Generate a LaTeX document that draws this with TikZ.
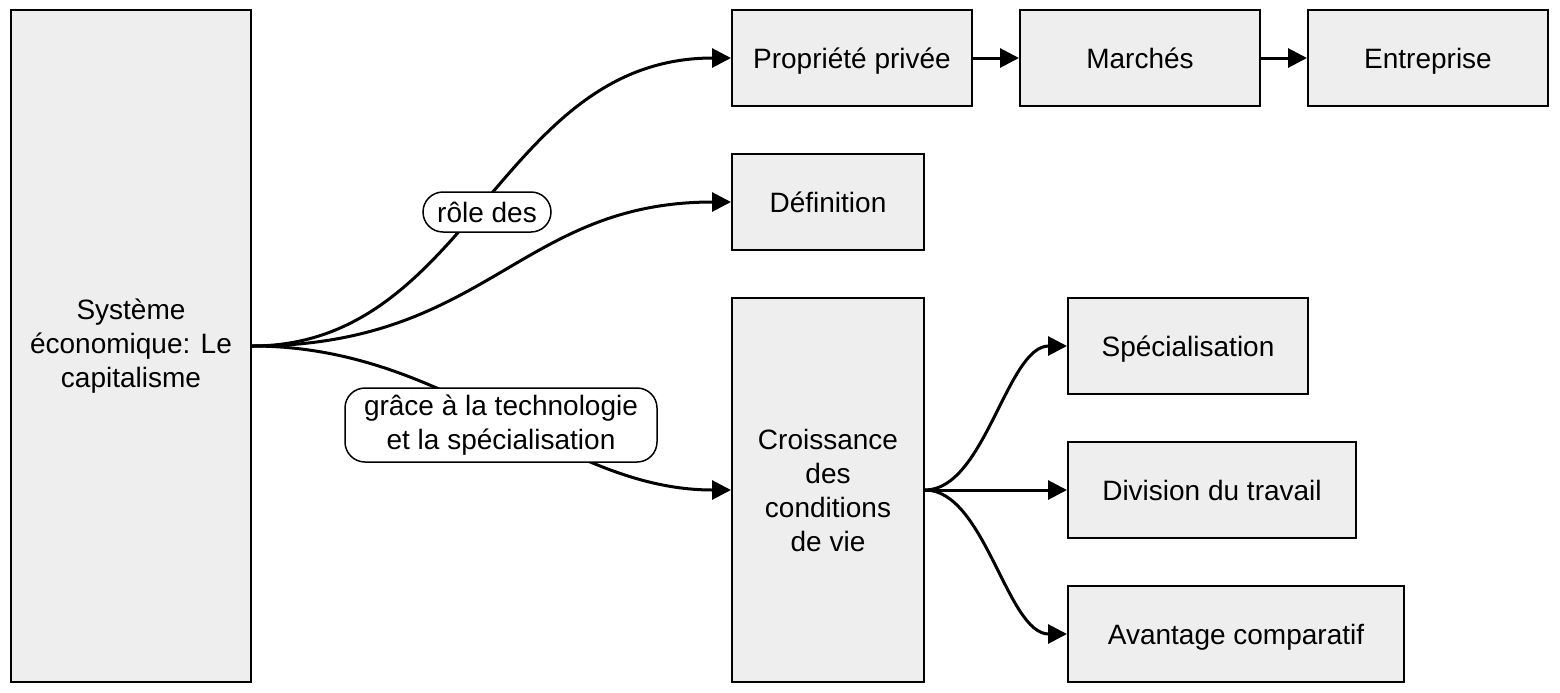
\documentclass[tikz,border=0pt]{standalone}
\usepackage{fontspec}
\setmainfont{Liberation Sans}
\usetikzlibrary{arrows.meta}
\definecolor{boxgray}{HTML}{EEEEEE}
\begin{document}
\begin{tikzpicture}[x=0.5pt,y=-0.5pt,
  font=\fontsize{14pt}{17pt}\selectfont,
  box/.style={draw=black, line width=1pt, fill=boxgray, inner sep=0pt, align=center},
  one/.style={text height=11pt, text depth=1pt},
  lbl/.style={draw=black, line width=0.75pt, fill=white, align=center, inner xsep=6pt, inner ysep=0pt},
  conn/.style={line width=1.5pt, -{Triangle[length=9.5pt,width=9.5pt]}}
]
\useasboundingbox (0,0) rectangle (1560,692);
\node[box, minimum width=120pt, minimum height=336pt] (L) at (131,346) {Système\\économique: Le\\capitalisme};
\node[box, one, minimum width=120pt, minimum height=48pt] (P) at (852,58) {Propriété privée};
\node[box, one, minimum width=120pt, minimum height=48pt] (M) at (1140,58) {Marchés};
\node[box, one, minimum width=120pt, minimum height=48pt] (E) at (1428,58) {Entreprise};
\node[box, one, minimum width=96pt, minimum height=48pt] (D) at (828,202) {Définition};
\node[box, minimum width=96pt, minimum height=192pt] (C) at (828,490) {Croissance\\des\\conditions\\de vie};
\node[box, one, minimum width=120pt, minimum height=48pt] (S) at (1188,346) {Spécialisation};
\node[box, one, minimum width=144pt, minimum height=48pt] (V) at (1212,490) {Division du travail};
\node[box, one, minimum width=168pt, minimum height=48pt] (A) at (1236,634) {Avantage comparatif};

\draw[conn] (L.east) .. controls +(219,0) and +(-232,0) .. (P.west);
\draw[conn] (L.east) .. controls +(235,0) and +(-212,0) .. (D.west);
\draw[conn] (L.east) .. controls +(199,0) and +(-172,0) .. (C.west);
\draw[conn] (P.east) -- (M.west);
\draw[conn] (M.east) -- (E.west);
\draw[conn] (C.east) .. controls +(60,0) and +(-60,0) .. (S.west);
\draw[conn] (C.east) -- (V.west);
\draw[conn] (C.east) .. controls +(60,0) and +(-60,0) .. (A.west);

\node[lbl, one, minimum width=64pt, minimum height=20pt, rounded corners=10pt] (l1) at (487,212) {rôle des};
\node[lbl, minimum width=156pt, minimum height=37pt, rounded corners=10pt] (l2) at (501,425) {grâce à la technologie\\et la spécialisation};
\end{tikzpicture}
\end{document}
